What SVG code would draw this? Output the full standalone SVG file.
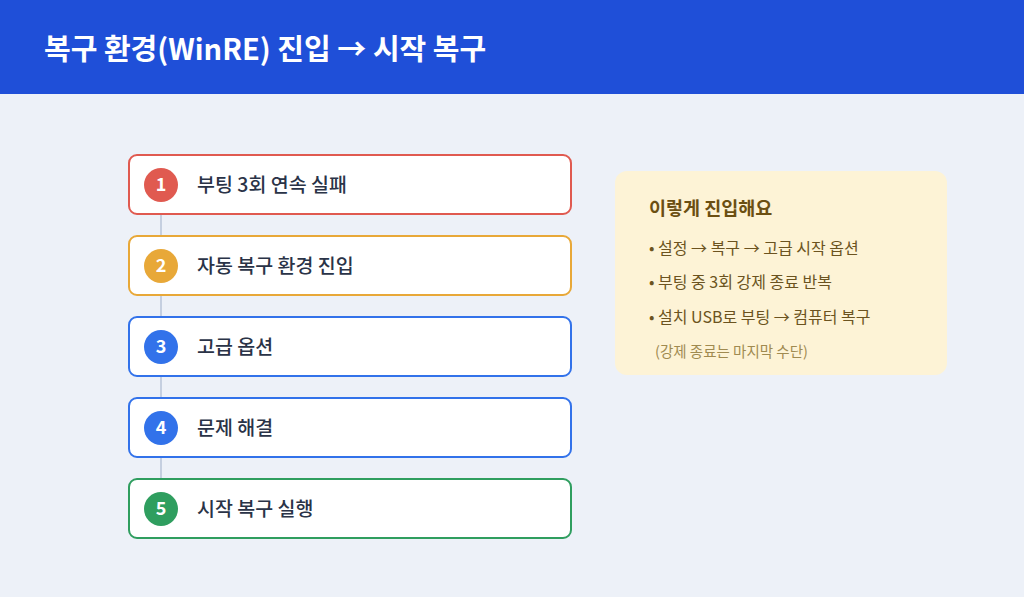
<svg xmlns="http://www.w3.org/2000/svg" width="1024" height="597" viewBox="0 0 1024 597">
<style>
.t{font-family:"Noto Sans CJK KR","Noto Sans",sans-serif}
.box{fill:#ffffff;stroke-width:2}
.lbl{font-size:19.5px;font-weight:500;fill:#2a3347}
.num{font-size:18px;font-weight:700;fill:#ffffff;text-anchor:middle}
.bul{font-size:16px;fill:#6b5320}
</style>
<rect width="1024" height="597" fill="#edf1f8"/>
<g id="header">
<rect width="1024" height="94" fill="#1f4fd8"/>
<text class="t" x="44" y="60" font-size="29" font-weight="700" fill="#ffffff">복구 환경(WinRE) 진입 → 시작 복구</text>
</g>
<g id="connectors" stroke="#c5cfe0" stroke-width="2">
<line x1="161" y1="214" x2="161" y2="236"/>
<line x1="161" y1="295" x2="161" y2="317"/>
<line x1="161" y1="376" x2="161" y2="398"/>
<line x1="161" y1="457" x2="161" y2="479"/>
</g>
<g id="step1">
<rect class="box" x="129" y="155" width="442" height="59" rx="8" stroke="#e05a50"/>
<circle cx="161" cy="185" r="17" fill="#e05a50"/>
<text class="t num" x="161" y="191">1</text>
<text class="t lbl" x="197" y="192">부팅 3회 연속 실패</text>
</g>
<g id="step2">
<rect class="box" x="129" y="236" width="442" height="59" rx="8" stroke="#e8a838"/>
<circle cx="161" cy="266" r="17" fill="#e8a838"/>
<text class="t num" x="161" y="272">2</text>
<text class="t lbl" x="197" y="273">자동 복구 환경 진입</text>
</g>
<g id="step3">
<rect class="box" x="129" y="317" width="442" height="59" rx="8" stroke="#3272ea"/>
<circle cx="161" cy="347" r="17" fill="#3272ea"/>
<text class="t num" x="161" y="353">3</text>
<text class="t lbl" x="197" y="354">고급 옵션</text>
</g>
<g id="step4">
<rect class="box" x="129" y="398" width="442" height="59" rx="8" stroke="#3272ea"/>
<circle cx="161" cy="428" r="17" fill="#3272ea"/>
<text class="t num" x="161" y="434">4</text>
<text class="t lbl" x="197" y="435">문제 해결</text>
</g>
<g id="step5">
<rect class="box" x="129" y="479" width="442" height="59" rx="8" stroke="#2f9e5f"/>
<circle cx="161" cy="509" r="17" fill="#2f9e5f"/>
<text class="t num" x="161" y="515">5</text>
<text class="t lbl" x="197" y="516">시작 복구 실행</text>
</g>
<g id="panel">
<rect x="615" y="171" width="332" height="204" rx="12" fill="#fdf3d6"/>
<text class="t" x="649" y="215" font-size="18.5" font-weight="700" fill="#6b4f12">이렇게 진입해요</text>
<text class="t bul" x="649" y="254">• 설정 → 복구 → 고급 시작 옵션</text>
<text class="t bul" x="649" y="288">• 부팅 중 3회 강제 종료 반복</text>
<text class="t bul" x="649" y="323">• 설치 USB로 부팅 → 컴퓨터 복구</text>
<text class="t" x="655" y="357" font-size="14.5" fill="#a08a50">(강제 종료는 마지막 수단)</text>
</g>
</svg>
